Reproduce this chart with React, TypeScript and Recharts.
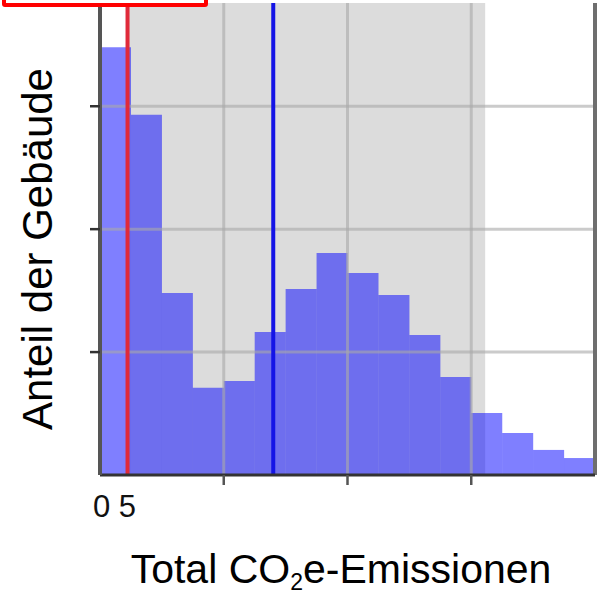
import {
  Bar,
  ComposedChart,
  ReferenceArea,
  ReferenceLine,
  XAxis,
  YAxis,
} from 'recharts'

const binStarts = [0, 10, 20, 30, 40, 50, 60, 70, 80, 90, 100, 110, 120, 130, 140, 150]
const buildingShare = [17.4, 14.65, 7.4, 3.55, 3.82, 5.82, 7.57, 9.03, 8.22, 7.32, 5.7, 3.99, 2.52, 1.71, 1.02, 0.69]
const emissionTicks = [0, 40, 80, 120]
const gridEmissions = [40, 80, 120]
const shareTicks = [5, 10, 15]
const redMarker = 8.9
const blueMarker = 56
const bandStart = 9.3
const bandEnd = 124.5
const axisEnd = 160

const FONT = '"Liberation Sans", Arial, sans-serif'

const data = binStarts.map((start, i) => ({ bin: start, share: buildingShare[i] }))

type TickProps = {
  x: number
  y: number
  payload: { value: number }
}

function EmissionTick({ x, y, payload }: TickProps) {
  if (payload.value === 0) {
    return (
      <text x={x - 7} y={y + 32} fontSize={31} fill="#111" fontFamily={FONT}>
        0 5
      </text>
    )
  }
  return <line x1={x} x2={x} y1={y - 10} y2={y} stroke="#555" strokeWidth={2.5} />
}

function XTitle() {
  return (
    <text x={341} y={583} textAnchor="middle" fontSize={41} fill="#000" fontFamily={FONT}>
      Total CO
      <tspan fontSize={23} dy={7}>2</tspan>
      <tspan dy={-7}>e-Emissionen</tspan>
    </text>
  )
}

function YTitle() {
  return (
    <text
      x={52}
      y={249}
      transform="rotate(-90, 52, 249)"
      textAnchor="middle"
      fontSize={42}
      fill="#000"
      fontFamily={FONT}
    >
      Anteil der Gebäude
    </text>
  )
}

const gridStyle = { stroke: '#a8a8a8', strokeOpacity: 0.6, strokeWidth: 3 }

export default function App() {
  return (
    <div style={{ position: 'absolute', left: 0, top: 0, width: 600, height: 597, background: '#fff', overflow: 'hidden' }}>
      <ComposedChart
        width={600}
        height={597}
        data={data}
        margin={{ top: 3, right: 5, bottom: 0, left: 0 }}
        barCategoryGap={0}
        barGap={0}
      >
        <XAxis xAxisId="bins" dataKey="bin" type="category" hide />
        <XAxis
          dataKey="bin"
          type="number"
          domain={[0, axisEnd]}
          allowDataOverflow
          ticks={emissionTicks}
          interval={0}
          height={122}
          tickSize={10}
          tickMargin={0}
          tickLine={false}
          tick={(props: TickProps) => <EmissionTick {...props} />}
          axisLine={{ stroke: '#333', strokeWidth: 3 }}
          label={() => <XTitle />}
        />
        <YAxis
          type="number"
          domain={[0, 19.2]}
          allowDataOverflow
          ticks={shareTicks}
          interval={0}
          width={100}
          tick={() => <g />}
          tickSize={10}
          tickLine={{ stroke: '#333', strokeWidth: 2.5 }}
          axisLine={{ stroke: '#555', strokeWidth: 4 }}
          label={() => <YTitle />}
        />
        <ReferenceArea
          x1={bandStart}
          x2={bandEnd}
          fill="#dcdcdc"
          fillOpacity={1}
          stroke="none"
          ifOverflow="hidden"
        />
        <Bar
          xAxisId="bins"
          dataKey="share"
          fill="#0000ff"
          fillOpacity={0.5}
          isAnimationActive={false}
        />
        {shareTicks.map((v) => (
          <ReferenceLine key={`h${v}`} y={v} {...gridStyle} />
        ))}
        {gridEmissions.map((v) => (
          <ReferenceLine key={`v${v}`} x={v} {...gridStyle} />
        ))}
        <ReferenceLine x={redMarker} stroke="#e02a3a" strokeWidth={4} />
        <ReferenceLine x={blueMarker} stroke="#1414e6" strokeWidth={4} />
        <ReferenceLine x={axisEnd} stroke="#6e6e6e" strokeWidth={4} />
      </ComposedChart>
      <div
        style={{
          position: 'absolute',
          left: 2,
          top: -13,
          width: 206,
          height: 20,
          border: '4px solid #ff0000',
          borderRadius: 3,
          boxSizing: 'border-box',
        }}
      />
    </div>
  )
}
